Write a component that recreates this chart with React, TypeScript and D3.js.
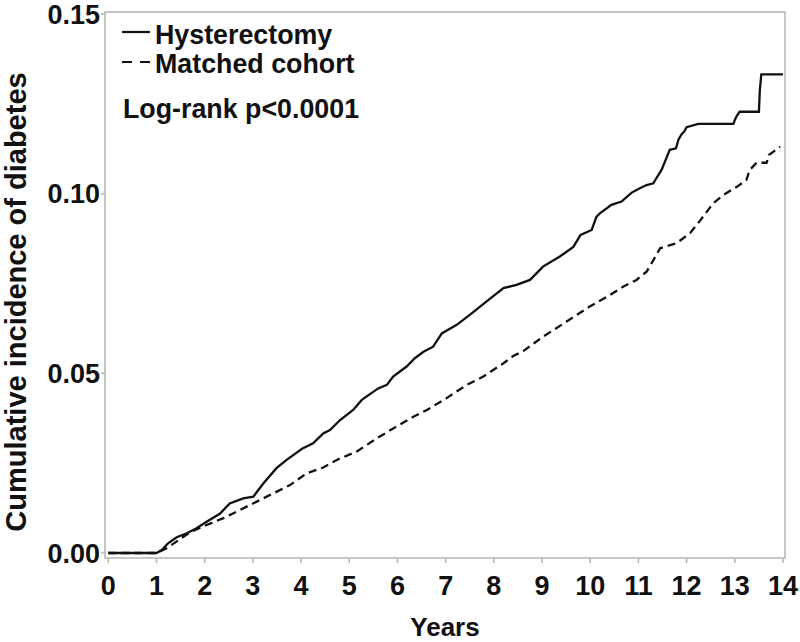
import React from "react";
import * as d3 from "d3";

const xTicks = [0, 1, 2, 3, 4, 5, 6, 7, 8, 9, 10, 11, 12, 13, 14];
const yTicks = [0, 0.05, 0.1, 0.15];
const seriesNames = ["Hysterectomy", "Matched cohort"];
const pValueText = "Log-rank p<0.0001";
const xTitle = "Years";
const yTitle = "Cumulative incidence of diabetes";

const hystX = [0, 1.0, 1.11, 1.24, 1.42, 1.63, 1.83, 2.04, 2.32, 2.52, 2.8, 3.01, 3.22, 3.49, 3.7, 4.02, 4.25, 4.46, 4.6, 4.81, 5.08, 5.26, 5.6, 5.78, 5.91, 6.19, 6.36, 6.54, 6.74, 6.92, 7.23, 7.54, 7.85, 8.2, 8.47, 8.75, 9.02, 9.37, 9.65, 9.8, 10.03, 10.13, 10.2, 10.44, 10.65, 10.86, 11.03, 11.17, 11.31, 11.39, 11.48, 11.58, 11.65, 11.78, 11.83, 11.9, 11.95, 12.0, 12.24, 12.97, 13.0, 13.04, 13.1, 13.5, 13.52, 13.55, 14.0];
const hystY = [0, 0, 0.0008, 0.0027, 0.0044, 0.0055, 0.0069, 0.0087, 0.011, 0.0138, 0.0152, 0.0157, 0.0194, 0.0236, 0.0259, 0.029, 0.0305, 0.0333, 0.0342, 0.037, 0.0398, 0.0426, 0.0458, 0.0468, 0.0491, 0.0519, 0.0542, 0.056, 0.0574, 0.0611, 0.0635, 0.0667, 0.070, 0.0737, 0.0746, 0.076, 0.0797, 0.0825, 0.0852, 0.0885, 0.0899, 0.0936, 0.0945, 0.0969, 0.0978, 0.1003, 0.1015, 0.1024, 0.1029, 0.1047, 0.1066, 0.1099, 0.1122, 0.1126, 0.115, 0.1166, 0.1173, 0.1185, 0.1194, 0.1194, 0.1205, 0.1216, 0.1228, 0.1228, 0.129, 0.1332, 0.1332];

const ctrlX = [0, 1.0, 1.21, 1.7, 2.04, 2.39, 3.08, 3.77, 4.12, 4.46, 4.74, 5.15, 5.57, 5.98, 6.33, 6.61, 7.02, 7.44, 7.78, 8.2, 8.4, 8.61, 9.02, 9.51, 9.99, 10.41, 10.68, 10.96, 11.17, 11.31, 11.45, 11.79, 12.07, 12.28, 12.55, 12.76, 13.04, 13.24, 13.31, 13.45, 13.66, 13.71, 13.94];
const ctrlY = [0, 0, 0.0013, 0.0058, 0.0078, 0.0097, 0.0143, 0.0189, 0.0222, 0.0238, 0.0259, 0.0282, 0.0319, 0.0352, 0.0379, 0.0398, 0.0431, 0.0468, 0.0491, 0.0528, 0.0548, 0.0562, 0.0602, 0.0644, 0.0686, 0.0718, 0.0741, 0.076, 0.0783, 0.0815, 0.0848, 0.0862, 0.089, 0.0925, 0.0973, 0.0996, 0.1019, 0.1038, 0.1066, 0.1086, 0.1086, 0.1108, 0.1131];

const FONT = "'Liberation Sans', Arial, Helvetica, sans-serif";

export default function App() {
  const left = 105, right = 785, top = 12, bottom = 558;
  const x = d3.scaleLinear().domain([0, 14]).range([108.3, 783]);
  const y = d3.scaleLinear().domain([0, 0.15]).range([553, 14]);
  const line = d3
    .line<[number, number]>()
    .x((d) => x(d[0]))
    .y((d) => y(d[1]))
    .curve(d3.curveLinear);
  const hyst: [number, number][] = hystX.map((v, i) => [v, hystY[i]]);
  const ctrl: [number, number][] = ctrlX.map((v, i) => [v, ctrlY[i]]);
  const axisColor = "#b4b4b4";
  return (
    <svg
      width={800}
      height={642}
      style={{ position: "absolute", left: 0, top: 0, background: "#fff" }}
      fontFamily={FONT}
    >
      <rect x={0} y={0} width={800} height={642} fill="#fff" />
      <rect x={left} y={top} width={right - left} height={bottom - top} fill="none" stroke={axisColor} strokeWidth={1.5} />
      {yTicks.map((t) => (
        <g key={"y" + t}>
          <line x1={left - 4} x2={left} y1={y(t)} y2={y(t)} stroke={axisColor} strokeWidth={1.5} />
          <text x={100} y={y(t)} dy="0.36em" textAnchor="end" fontSize={27} fontWeight="bold" fill="#111">
            {t.toFixed(2)}
          </text>
        </g>
      ))}
      {xTicks.map((t) => (
        <g key={"x" + t}>
          <line x1={x(t)} x2={x(t)} y1={bottom} y2={bottom + 5} stroke={axisColor} strokeWidth={1.5} />
          <text x={x(t)} y={595} textAnchor="middle" fontSize={27} fontWeight="bold" fill="#111">
            {t}
          </text>
        </g>
      ))}
      <text x={(left + right) / 2} y={636} textAnchor="middle" fontSize={26} fontWeight="bold" fill="#111">
        {xTitle}
      </text>
      <text
        transform={`translate(26, 302) rotate(-90)`}
        textAnchor="middle"
        fontSize={29}
        fontWeight="bold"
        fill="#111"
      >
        {yTitle}
      </text>
      <path d={line(ctrl) || ""} fill="none" stroke="#111" strokeWidth={2.3} strokeDasharray="8,5" />
      <path d={line(hyst) || ""} fill="none" stroke="#111" strokeWidth={2.3} strokeLinejoin="miter" />
      <line x1={122} x2={150} y1={32} y2={32} stroke="#111" strokeWidth={2.2} />
      <text x={155} y={44} fontSize={26.8} fontWeight="bold" fill="#111">
        {seriesNames[0]}
      </text>
      <line x1={122} x2={150} y1={62} y2={62} stroke="#111" strokeWidth={2.2} strokeDasharray="10,8" />
      <text x={155} y={73} fontSize={26.8} fontWeight="bold" fill="#111">
        {seriesNames[1]}
      </text>
      <text x={123} y={118} fontSize={26.8} fontWeight="bold" fill="#111">
        {pValueText}
      </text>
    </svg>
  );
}
